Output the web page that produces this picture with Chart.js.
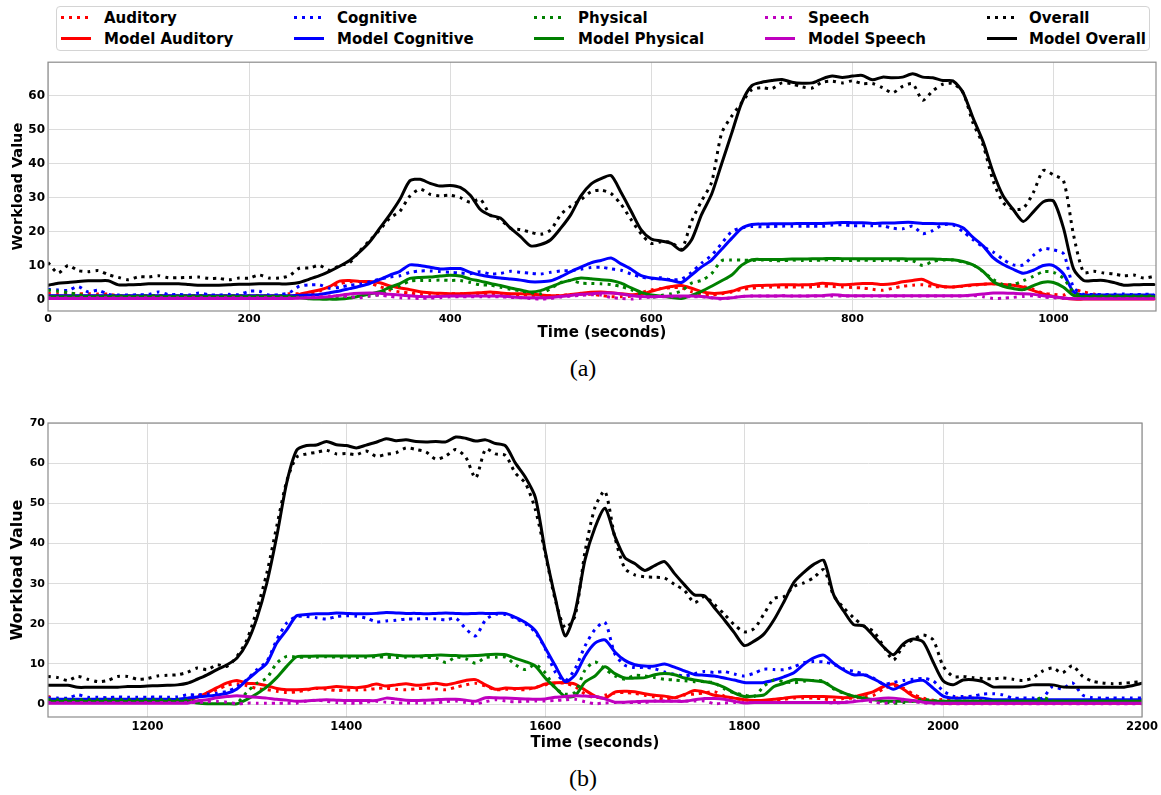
<!DOCTYPE html>
<html><head><meta charset="utf-8">
<script src="https://cdn.jsdelivr.net/npm/chart.js@4.4.1/dist/chart.umd.min.js"></script>
<style>
html,body{margin:0;padding:0;background:#fff;}
body{width:1161px;height:795px;overflow:hidden;position:relative;font-family:"DejaVu Sans",sans-serif;}
#legend{position:absolute;left:56px;top:6px;width:1094px;height:45px;border:1px solid #d4d4d4;border-radius:4px;box-sizing:border-box;}
.lt{position:absolute;font-weight:bold;font-size:15px;line-height:18px;color:#000;white-space:nowrap;}
.lh{position:absolute;width:30px;height:3px;}
.cap{position:absolute;left:0;width:1166px;text-align:center;font-family:"Liberation Serif","Times New Roman",serif;font-size:24px;line-height:28px;color:#000;}
canvas{position:absolute;left:0;}
</style></head>
<body>
<div id="legend"></div>
<canvas id="ca" width="1161" height="300" style="top:52px"></canvas>
<div class="cap" style="top:354px">(a)</div>
<canvas id="cb" width="1161" height="350" style="top:410px"></canvas>
<div class="cap" style="top:764px">(b)</div>
<script>
// ---------- categories / tick settings ----------
const seriesNames = ['Auditory','Cognitive','Physical','Speech','Overall'];
const seriesColors = ['#ff0000','#0000ff','#008000','#bf00bf','#000000'];
const xTickStep = 200;
const yTickStep = 10;

// ---------- time axis (seconds) ----------
const timeA = Array.from({length:111}, (_, i) => i * 10);          // 0 .. 1100
const timeB = Array.from({length:111}, (_, i) => 1100 + i * 10);   // 1100 .. 2200

// ---------- panel (a) : measured (dotted) ----------
const auditoryA = [1.8,1.7,1.7,1.7,1.7,1.6,1.6,1.0,1.0,1.0, 1.0,1.1,1.0,1.0,1.0,1.0,1.1,1.0,1.0,1.0, 1.0,1.1,1.0,1.0,1.7,1.7,1.8,2.5,3.6,4.6, 5.2,5.3,4.8,3.8,2.8,2.2,1.9,1.5,1.3,1.5, 1.7,1.7,1.7,1.7,1.7,1.7,1.5,1.4,1.2,1.1, 1.1,1.2,1.4,1.5,1.5,1.2,0.8,0.8,1.0,2.0, 2.8,3.2,3.5,3.4,2.3,1.5,1.3,1.7,2.2,2.9, 3.3,3.6,3.7,3.7,3.7,3.7,3.7,4.0,3.8,3.7, 3.5,3.4,3.0,2.7,3.3,3.9,4.2,4.3,3.8,3.7, 3.7,3.9,4.2,4.5,4.6,4.4,4.2,3.8,3.0,1.8, 1.5,1.3,2.8,2.2,1.6,1.1,1.1,1.1,1.1,1.1, 1.1];
const cognitiveA = [3.0,2.8,2.7,3.8,2.2,2.7,1.5,1.3,1.3,1.4, 1.5,2.2,1.4,1.5,1.3,1.9,1.4,1.3,1.5,1.4, 2.4,2.4,1.3,1.4,2.0,3.9,4.3,4.3,3.3,3.6, 4.2,4.5,5.2,6.0,6.6,7.0,8.0,8.4,8.4,8.2, 8.0,7.8,7.6,8.2,7.5,7.7,8.3,8.0,7.7,7.5, 8.0,8.4,8.5,8.9,9.4,9.5,9.0,8.6,7.5,6.6, 6.1,6.4,5.8,6.0,8.0,10.7,13.0,16.5,20.0,21.1, 21.5,21.4,21.5,21.6,21.6,21.6,21.6,21.6,21.9,22.0, 21.7,21.7,21.7,21.7,21.0,20.8,21.6,19.4,20.3,22.0, 22.0,20.0,17.6,15.5,14.0,11.8,10.2,10.2,13.0,15.0, 14.6,13.5,3.5,1.5,1.5,1.4,1.5,1.6,1.4,1.5, 1.5];
const physicalA = [2.7,2.4,2.0,1.5,1.0,1.0,1.0,1.0,1.0,1.0, 1.0,1.1,0.9,1.0,1.0,1.1,1.0,0.9,1.0,1.0, 1.0,1.0,0.9,1.0,1.0,0.7,0.5,0.4,0.5,0.5, 0.6,0.8,1.0,1.5,3.0,4.0,5.4,5.6,5.6,5.7, 5.6,5.6,5.0,4.3,4.2,3.6,3.0,2.5,2.0,1.7, 3.2,5.0,5.6,4.8,4.7,4.6,4.4,3.8,2.9,1.5, 0.6,1.2,1.7,2.5,4.8,5.6,7.6,11.4,11.6,11.6, 11.5,11.6,11.5,11.4,11.6,11.5,11.5,11.6,11.7,11.5, 11.5,11.6,11.5,11.5,11.6,11.5,11.4,10.0,11.2,11.6, 11.6,11.0,10.2,8.2,5.9,4.4,4.4,5.5,6.8,8.2, 8.0,6.2,2.2,1.0,1.0,1.0,1.0,1.0,1.0,1.0, 1.0];
const speechA = [0.5,0.5,0.4,0.5,0.6,0.5,0.5,0.4,0.5,0.5, 0.5,0.5,0.5,0.5,0.5,0.5,0.5,0.5,0.5,0.5, 0.5,0.5,0.5,0.5,0.5,0.5,0.6,0.8,1.0,1.1, 0.8,0.5,1.0,1.3,0.9,0.5,0.4,0.3,0.4,0.5, 0.8,0.8,0.8,0.8,0.8,0.8,0.6,0.5,0.3,0.1, 0.3,0.7,1.0,1.2,1.4,1.3,0.6,0.3,0.1,0.4, 0.8,0.8,0.8,0.8,0.8,0.8,0.5,0.1,0.5,0.9, 1.0,1.0,1.0,1.1,1.0,1.0,1.0,1.0,1.0,1.0, 1.0,1.0,1.0,1.0,1.0,1.0,1.0,1.0,1.0,1.0, 1.0,1.0,1.2,0.8,0.3,0.4,0.6,0.9,1.1,0.7, 0.5,0.3,0.3,0.3,0.3,0.3,0.3,0.3,0.3,0.3, 0.3];
const overallA = [10.9,7.8,10.0,8.5,8.2,8.5,7.3,6.5,5.8,6.7, 6.6,7.0,6.4,6.4,6.5,6.6,6.2,6.2,5.8,6.3, 6.3,7.2,6.3,6.3,7.0,9.2,9.3,10.0,8.6,10.0, 10.8,14.3,17.4,20.5,24.0,26.0,30.5,32.5,31.0,30.5, 30.7,30.0,28.6,29.5,24.8,23.5,21.0,20.6,19.8,19.2, 20.5,25.0,27.5,29.4,31.7,32.2,31.2,28.0,23.5,19.3, 16.5,17.0,16.8,14.8,23.0,29.0,34.5,49.0,54.0,58.0, 61.8,62.4,62.1,63.8,63.5,62.6,62.3,64.0,64.3,63.8, 64.4,63.6,63.6,62.4,60.9,62.8,63.5,58.7,61.5,63.4, 63.6,61.0,52.0,45.5,35.0,28.5,26.6,26.9,31.5,38.0, 36.7,35.0,19.0,8.0,8.3,7.8,7.5,7.0,7.2,6.3, 6.8];

// ---------- panel (a) : model (solid) ----------
const modelAuditoryA = [1.0,1.0,1.0,1.0,1.0,1.0,1.0,1.0,1.0,1.0, 1.0,1.0,1.0,1.0,1.0,1.0,1.0,1.0,1.0,1.0, 1.0,1.0,1.0,1.0,1.0,1.5,2.2,2.8,3.8,5.4, 5.6,5.3,5.3,4.9,4.0,3.4,2.9,2.3,2.0,1.8, 1.7,1.7,1.8,2.0,2.2,1.9,1.7,1.7,1.6,1.3, 1.1,1.1,1.5,1.8,2.1,2.2,2.0,1.7,1.4,1.6, 2.4,3.2,3.8,4.1,3.3,2.3,1.8,1.9,2.4,3.4, 4.0,4.1,4.2,4.3,4.3,4.3,4.4,4.8,4.6,4.3, 4.5,4.7,4.7,4.4,4.6,5.2,5.6,5.9,4.5,3.8, 3.7,4.0,4.3,4.5,4.6,4.4,4.2,3.6,2.6,1.6, 0.9,0.4,0.1,0.1,0.1,0.1,0.1,0.1,0.1,0.1, 0.1];
const modelCognitiveA = [1.1,1.1,1.1,1.1,1.1,1.1,1.1,1.1,1.1,1.1, 1.1,1.1,1.1,1.1,1.1,1.1,1.1,1.1,1.1,1.1, 1.1,1.1,1.1,1.1,1.1,1.2,1.3,1.5,2.0,2.5, 3.2,3.9,4.7,5.9,7.2,8.3,10.2,10.0,9.5,9.0, 9.1,9.1,8.0,7.2,6.7,6.3,6.0,5.7,5.2,5.2, 5.5,6.7,8.2,9.5,10.8,11.5,12.2,10.5,8.9,7.0, 6.3,6.0,5.6,5.0,7.2,9.6,11.6,14.8,18.0,21.0, 22.1,22.2,22.3,22.3,22.3,22.4,22.4,22.4,22.5,22.7, 22.6,22.6,22.4,22.5,22.5,22.7,22.7,22.4,22.4,22.3, 22.2,21.1,18.3,15.8,12.3,10.3,8.9,7.7,8.6,10.0, 10.0,7.5,2.2,1.3,1.3,1.3,1.3,1.3,1.3,1.3, 1.3];
const modelPhysicalA = [0.8,0.8,0.8,0.8,0.8,0.8,0.8,0.8,0.8,0.8, 0.8,0.8,0.8,0.8,0.8,0.8,0.8,0.8,0.8,0.8, 0.8,0.8,0.8,0.8,0.8,0.5,0.2,0.1,0.1,0.1, 0.4,1.0,1.6,2.3,3.6,4.7,6.2,6.5,6.6,6.9, 7.1,6.9,6.0,5.4,4.7,4.1,3.4,2.8,2.2,2.6, 3.7,4.9,5.7,6.3,6.1,5.8,5.6,4.8,3.4,2.1, 1.3,1.0,0.6,0.3,1.2,2.4,3.9,5.5,7.2,10.1, 11.7,11.8,11.8,11.8,11.9,11.9,12.0,12.0,12.1,12.0, 12.0,12.0,12.0,12.0,12.0,12.0,11.9,11.9,11.9,11.8, 11.7,11.2,10.2,8.3,5.3,3.9,3.2,2.9,4.1,5.1, 5.0,3.6,1.2,0.8,0.8,0.8,0.8,0.8,0.8,0.8, 0.8];
const modelSpeechA = [0.3,0.3,0.3,0.3,0.3,0.3,0.3,0.3,0.3,0.3, 0.3,0.3,0.3,0.3,0.3,0.3,0.3,0.3,0.3,0.3, 0.3,0.3,0.3,0.3,0.3,0.4,0.5,0.6,0.8,1.2, 1.6,1.8,1.9,1.8,1.5,1.3,1.1,0.9,0.8,0.9, 1.0,1.0,1.0,1.0,1.0,1.0,0.8,0.6,0.5,0.5, 0.6,0.9,1.2,1.5,1.7,1.9,1.9,1.6,1.2,0.9, 0.8,0.9,1.0,1.0,1.0,0.9,0.5,0.3,0.5,0.9, 1.0,1.0,1.0,1.1,1.0,1.0,1.1,1.1,1.4,1.2, 1.1,1.1,1.1,1.1,1.1,1.1,1.1,1.1,1.1,1.1, 1.1,1.1,1.3,1.6,1.9,1.9,1.8,1.7,1.5,1.1, 0.8,0.4,0.2,0.2,0.2,0.2,0.2,0.2,0.2,0.2, 0.2];
const modelOverallA = [4.2,4.8,5.0,5.3,5.5,5.5,5.5,4.3,4.3,4.4, 4.6,4.6,4.6,4.6,4.4,4.2,4.2,4.2,4.3,4.5, 4.5,4.6,4.6,4.6,4.6,5.0,6.0,7.0,8.3,9.8, 11.5,14.0,17.0,21.0,25.0,29.5,35.0,35.4,34.2,33.4, 33.6,33.0,30.7,26.5,24.8,24.0,21.0,18.5,15.8,16.2, 17.6,21.0,25.0,30.5,34.0,35.6,36.5,31.5,26.0,20.5, 17.8,17.2,16.5,14.5,17.5,25.0,31.0,40.0,49.0,58.0, 63.0,64.0,64.5,64.8,64.0,63.7,63.8,65.0,65.8,65.4, 65.8,66.0,64.7,65.5,65.3,65.5,66.5,65.5,65.3,64.5, 64.4,61.0,53.5,46.5,37.5,30.5,26.5,23.0,25.8,28.8, 29.0,21.0,9.0,5.6,5.6,5.6,5.0,4.2,4.3,4.4, 4.4];

// ---------- panel (b) : measured (dotted) ----------
const auditoryB = [1.9,1.1,1.2,1.1,1.0,1.1,1.2,1.1,1.0,1.1, 1.1,1.2,1.1,1.0,1.1,2.0,2.8,3.6,4.7,5.1, 4.6,3.9,3.6,3.2,2.9,3.1,3.5,3.9,3.7,3.4, 3.5,3.5,3.6,3.9,4.0,3.7,3.6,3.8,4.0,3.8, 3.6,4.2,4.8,5.2,4.5,3.6,3.7,3.7,3.6,4.2, 4.8,5.2,5.2,4.4,2.5,1.6,2.2,2.8,2.9,2.7, 2.2,1.8,1.2,1.5,2.3,2.5,2.8,3.1,2.0,1.4, 1.1,0.8,0.7,0.9,1.2,1.5,1.5,1.5,1.3,1.0, 1.4,1.5,1.8,2.2,3.8,4.6,4.0,2.5,1.5,1.0, 1.2,1.5,1.5,1.5,1.2,0.9,0.7,0.7,0.7,0.7, 0.7,0.7,0.7,0.7,0.7,0.7,0.7,0.7,0.7,0.7, 0.7];
const cognitiveB = [1.5,1.5,1.5,2.3,1.7,1.7,1.6,1.8,1.7,1.7, 1.7,1.8,1.7,1.8,2.3,2.3,2.5,2.7,3.2,4.3, 6.1,8.6,10.6,16.0,20.2,21.8,21.8,21.5,21.2,21.8, 22.0,21.9,21.4,20.5,20.7,20.9,21.2,21.2,21.3,21.2, 21.0,21.4,18.8,17.0,21.0,22.4,22.3,21.3,20.0,17.9, 13.8,8.0,5.8,8.8,14.5,18.6,20.4,12.5,9.7,9.1, 9.2,8.8,8.0,7.4,7.0,7.6,8.1,7.9,8.1,7.5, 7.0,7.7,8.7,8.6,8.6,9.3,10.3,10.6,10.5,9.9, 8.8,8.2,7.5,6.5,5.0,5.4,5.9,6.2,6.4,5.8, 3.3,2.0,1.9,2.0,2.5,2.6,2.3,1.5,1.5,1.5, 1.5,4.4,3.8,5.3,2.3,1.6,1.5,1.5,1.5,1.5, 1.5];
const physicalB = [1.1,1.1,1.1,1.1,1.1,1.1,1.1,1.1,1.1,1.1, 1.1,1.1,1.1,1.1,1.0,0.7,0.3,0.2,0.2,0.3, 3.0,5.2,6.5,10.2,11.9,11.7,11.7,11.7,11.8,11.7, 11.7,11.6,11.7,11.8,11.7,11.6,11.7,11.8,11.7,11.5, 10.4,11.7,11.3,10.2,11.6,11.7,11.7,9.8,8.6,9.8, 7.8,4.0,2.5,3.0,8.5,10.5,8.8,7.0,6.2,7.2, 7.0,6.6,6.2,6.0,5.8,5.6,5.6,5.3,3.8,2.8, 2.3,1.9,4.5,6.0,5.6,5.3,5.7,5.9,5.7,3.8, 2.7,2.0,1.6,1.1,0.6,0.2,0.4,0.8,1.2,0.9, 0.7,0.7,0.7,0.7,0.7,0.7,0.7,0.7,0.7,0.7, 1.7,0.8,0.7,0.7,0.7,0.7,0.7,0.7,0.7,0.7, 0.7];
const speechB = [0.4,0.4,0.4,0.4,0.4,0.4,0.4,0.4,0.4,0.4, 0.4,0.4,0.4,0.4,0.4,0.4,0.6,0.7,0.5,0.1, 0.25,0.25,0.25,0.25,0.25,0.25,0.8,1.0,0.7,0.4, 0.3,0.2,0.5,0.7,0.5,0.3,0.3,0.3,0.3,0.3, 0.6,0.8,0.4,0.1,0.6,1.1,0.8,0.6,0.7,0.8, 0.8,0.9,1.1,1.2,0.6,0.1,0.3,0.4,0.4,0.4, 0.4,0.8,0.8,0.8,0.8,0.8,0.8,0.1,0.3,0.4, 0.4,0.4,0.4,0.4,0.4,0.4,0.4,0.4,0.4,0.3, 0.4,0.8,0.9,0.5,0.2,0.5,0.8,0.6,0.3,0.1, 0.1,0.1,0.1,0.1,0.1,0.1,0.1,0.1,0.1,0.1, 0.1,0.1,0.1,0.1,0.1,0.1,0.1,0.1,0.1,0.1, 0.1];
const overallB = [6.9,6.6,5.9,6.9,6.2,5.6,5.9,6.9,6.9,6.2, 6.4,7.0,7.2,7.3,7.9,9.0,8.6,9.8,9.4,11.9, 16.0,23.5,32.6,44.3,55.5,61.5,62.3,62.7,63.2,62.3, 62.4,62.1,63.0,61.7,62.2,62.6,63.8,63.4,62.8,61.0, 61.8,63.4,61.5,56.3,63.5,62.3,61.9,57.5,55.0,48.5, 37.5,26.0,19.0,22.0,38.0,49.0,53.0,41.5,33.8,32.2, 31.7,31.6,31.4,29.8,28.3,25.3,26.8,24.8,22.4,19.8, 18.0,18.8,22.5,26.3,26.8,29.3,30.2,31.5,33.5,27.0, 24.0,21.5,19.5,18.1,14.5,11.0,14.5,16.1,17.2,16.0, 9.5,6.9,6.9,6.6,6.4,6.3,6.5,6.2,5.9,6.5, 8.2,9.0,7.8,9.6,7.0,5.7,5.3,5.1,5.2,5.4, 5.6];

// ---------- panel (b) : model (solid) ----------
const modelAuditoryB = [1.1,1.1,1.1,1.1,1.1,1.1,1.1,1.1,1.1,1.1, 1.1,1.1,1.1,1.1,1.1,1.7,2.8,4.1,5.3,5.9, 5.2,5.1,4.6,3.9,3.6,3.6,3.7,4.0,4.1,4.4, 4.2,4.1,4.4,5.0,4.5,4.8,5.1,4.7,4.9,5.2, 4.8,5.3,5.9,6.1,4.8,3.7,4.0,3.9,4.0,4.1, 5.0,5.3,5.4,5.0,3.5,2.0,1.5,3.0,3.2,3.1, 2.6,2.2,2.0,1.6,2.4,3.4,3.0,2.2,1.9,1.5, 1.1,0.9,1.0,1.2,1.5,1.8,1.9,1.9,1.9,1.8, 1.6,1.8,2.4,3.1,4.4,5.0,3.7,2.0,1.1,0.7, 0.2,0.2,0.2,0.2,0.2,0.2,0.2,0.2,0.2,0.2, 0.2,0.2,0.2,0.2,0.2,0.2,0.2,0.2,0.2,0.2, 0.2];
const modelCognitiveB = [1.2,1.2,1.2,1.2,1.2,1.2,1.2,1.2,1.2,1.2, 1.2,1.2,1.2,1.2,1.5,1.8,2.0,2.3,2.7,3.8, 6.0,8.1,10.2,15.2,18.5,22.0,22.3,22.5,22.5,22.7, 22.6,22.5,22.5,22.6,22.8,22.7,22.6,22.6,22.5,22.6, 22.7,22.6,22.5,22.6,22.6,22.6,22.6,21.6,20.3,18.3, 14.0,9.6,5.6,7.3,12.0,15.2,16.0,13.0,10.9,9.8, 9.5,9.5,10.0,9.2,8.3,7.4,7.2,7.0,6.5,6.0, 5.4,5.3,5.4,6.0,6.8,7.8,9.9,11.5,12.2,10.2, 8.5,7.3,7.3,6.3,5.0,3.7,4.8,5.7,5.9,4.0, 2.0,1.5,1.5,1.5,1.5,1.1,1.1,1.1,1.1,1.1, 1.1,1.1,1.1,1.1,1.1,1.1,1.1,1.1,1.1,1.1, 1.1];
const modelPhysicalB = [0.7,0.7,0.7,0.7,0.7,0.7,0.7,0.7,0.7,0.7, 0.7,0.7,0.7,0.7,0.7,0.3,0.1,0.1,0.1,0.1, 1.2,2.6,4.3,6.6,9.4,11.8,11.9,12.0,12.0,12.0, 12.0,12.0,12.0,12.1,12.4,12.2,12.0,12.0,12.1,12.2, 12.2,12.1,12.0,12.1,12.3,12.4,12.3,11.4,10.6,9.5, 6.5,4.1,1.9,2.1,5.5,7.0,9.3,7.6,6.5,6.5, 6.6,7.3,7.6,7.3,6.5,6.0,5.6,5.1,4.2,2.8, 1.9,2.0,2.3,4.4,5.2,6.1,6.0,5.8,5.5,4.0, 2.8,2.0,1.5,1.1,0.8,0.7,0.7,0.7,0.7,0.7, 0.7,0.7,0.7,0.7,0.7,0.7,0.7,0.7,0.7,0.7, 0.7,0.7,0.7,0.7,0.7,0.7,0.7,0.7,0.7,0.7, 0.7];
const modelSpeechB = [0.25,0.25,0.25,0.25,0.25,0.25,0.25,0.25,0.25,0.25, 0.25,0.25,0.25,0.25,0.25,0.8,1.1,1.6,1.9,2.1, 1.9,1.7,1.5,1.2,1.0,0.7,0.8,1.0,1.1,1.0, 0.9,0.9,0.9,0.9,1.5,1.3,1.0,0.9,1.0,1.1, 1.2,1.2,1.0,0.7,1.6,1.6,1.5,1.4,1.3,1.2, 1.3,1.7,1.9,2.1,2.0,1.9,1.3,0.5,0.5,0.6, 0.7,0.7,0.7,0.7,0.7,1.1,1.4,1.4,1.2,0.7, 0.3,0.4,0.4,0.4,0.4,0.4,0.4,0.4,0.4,0.4, 0.4,0.6,0.9,1.2,1.5,1.5,1.2,0.9,0.5,0.3, 0.25,0.25,0.25,0.25,0.25,0.25,0.25,0.25,0.25,0.25, 0.25,0.25,0.25,0.25,0.25,0.25,0.25,0.25,0.25,0.25, 0.25];
const modelOverallB = [4.7,4.7,4.7,4.2,4.2,4.2,4.2,4.2,4.4,4.4, 4.5,4.6,4.7,4.8,5.2,6.2,7.3,8.6,9.8,11.5, 15.2,21.4,30.1,41.8,55.1,63.2,64.4,64.5,65.4,64.6, 64.4,63.8,64.5,65.2,66.1,65.6,65.8,65.4,65.3,65.4, 65.3,66.5,66.2,65.5,65.8,64.9,64.3,60.0,56.5,51.5, 38.0,26.5,17.0,23.0,36.0,44.0,48.8,41.8,36.5,35.0, 33.3,34.5,35.5,32.5,29.7,27.2,27.0,24.0,21.0,17.8, 14.6,15.7,17.5,21.0,25.5,30.3,32.8,34.8,35.8,27.2, 23.2,19.8,19.5,17.0,14.3,12.3,15.0,16.2,15.5,10.5, 5.8,4.8,6.0,6.1,5.6,4.3,4.3,4.3,4.3,4.8, 4.8,4.8,4.3,4.2,4.2,4.2,4.2,4.2,4.2,4.6, 5.2];

// ---------- build ----------
const measuredA = [auditoryA, cognitiveA, physicalA, speechA, overallA];
const modelA = [modelAuditoryA, modelCognitiveA, modelPhysicalA, modelSpeechA, modelOverallA];
const measuredB = [auditoryB, cognitiveB, physicalB, speechB, overallB];
const modelB = [modelAuditoryB, modelCognitiveB, modelPhysicalB, modelSpeechB, modelOverallB];

// legend (HTML, real text)
(function buildLegend(){
  const handleX = [61, 294, 534, 765, 987];
  const textX = [104, 337, 578, 808, 1029];
  const rowY = [17.5, 38.5];
  const body = document.body;
  seriesNames.forEach((n, i) => {
    for (let r = 0; r < 2; r++) {
      const h = document.createElement('div');
      h.className = 'lh';
      h.style.left = handleX[i] + 'px';
      h.style.top = (rowY[r] - 1.5) + 'px';
      if (r === 0) h.style.background = 'repeating-linear-gradient(to right,' + seriesColors[i] + ' 0 3px, transparent 3px 8px)';
      else h.style.background = seriesColors[i];
      body.appendChild(h);
      const t = document.createElement('div');
      t.className = 'lt';
      t.style.left = textX[i] + 'px';
      t.style.top = (rowY[r] - 9) + 'px';
      t.textContent = (r === 0 ? '' : 'Model ') + n;
      body.appendChild(t);
    }
  });
})();

Chart.defaults.font.family = '"DejaVu Sans", sans-serif';
Chart.defaults.color = '#000';

const framePlugin = {
  id: 'frame',
  afterDraw(chart) {
    const {ctx, chartArea: a} = chart;
    ctx.save();
    ctx.strokeStyle = '#8c8c8c';
    ctx.lineWidth = 1.2;
    ctx.strokeRect(a.left, a.top, a.right - a.left, a.bottom - a.top);
    ctx.restore();
  }
};

function makeDatasets(time, measured, model) {
  const ds = [];
  let k = 0;
  seriesNames.forEach((n, i) => {
    ds.push({
      label: n,
      data: measured[i].map((v, j) => ({x: time[j], y: v})),
      borderColor: seriesColors[i], borderWidth: 3, borderDash: [3, 5], borderCapStyle: 'butt',
      pointRadius: 0, tension: 0.25, fill: false, order: 20 - (k++)
    });
    ds.push({
      label: 'Model ' + n,
      data: model[i].map((v, j) => ({x: time[j], y: v})),
      borderColor: seriesColors[i], borderWidth: 3, borderCapStyle: 'round', borderJoinStyle: 'round',
      pointRadius: 0, tension: 0.25, fill: false, order: 20 - (k++)
    });
  });
  return ds;
}

function makeChart(id, time, measured, model, cfg) {
  return new Chart(document.getElementById(id), {
    type: 'line',
    data: {datasets: makeDatasets(time, measured, model)},
    plugins: [framePlugin],
    options: {
      responsive: false, animation: false, devicePixelRatio: 1,
      layout: {padding: cfg.padding},
      plugins: {legend: {display: false}, tooltip: {enabled: false}},
      scales: {
        x: {
          type: 'linear', min: cfg.xmin, max: cfg.xmax,
          ticks: {stepSize: xTickStep, includeBounds: false, autoSkip: false, maxRotation: 0, color: '#000',
                  padding: cfg.xTickPad, font: {weight: 'bold', size: cfg.xTickSize},
                  callback: v => String(v)},
          grid: {color: '#dcdcdc', lineWidth: 1, drawTicks: false},
          border: {display: false},
          title: {display: true, text: 'Time (seconds)', color: '#000',
                  font: {weight: 'bold', size: 15}, padding: {top: 0, bottom: cfg.xTitlePad}},
          afterFit(s) { s.height = cfg.xHeight; }
        },
        y: {
          type: 'linear', min: cfg.ymin, max: cfg.ymax,
          ticks: {stepSize: yTickStep, includeBounds: false, autoSkip: false, color: '#000',
                  padding: 3, font: {weight: 'bold', size: cfg.yTickSize},
                  callback: v => String(v)},
          grid: {color: '#dcdcdc', lineWidth: 1, drawTicks: false},
          border: {display: false},
          title: {display: true, text: 'Workload Value', color: '#000',
                  font: {weight: 'bold', size: cfg.yTitleSize}, padding: {top: cfg.yTitlePad, bottom: 0}},
          afterFit(s) { s.width = 48; }
        }
      }
    }
  });
}

makeChart('ca', timeA, measuredA, modelA, {
  padding: {top: 6, right: 5, left: 0, bottom: 0},
  xmin: 0, xmax: 1102, ymin: -3.4, ymax: 69.9,
  xTickPad: 1.5, xTickSize: 11, yTickSize: 12, xTitlePad: 10, xHeight: 41,
  yTitleSize: 14.5, yTitlePad: 9.3
});
makeChart('cb', timeB, measuredB, modelB, {
  padding: {top: 13, right: 19, left: 0, bottom: 0},
  xmin: 1100, xmax: 2200, ymin: -3.2, ymax: 70,
  xTickPad: 2.8, xTickSize: 11.5, yTickSize: 11, xTitlePad: 7.7, xHeight: 43,
  yTitleSize: 16, yTitlePad: 8
});
</script>
</body></html>
